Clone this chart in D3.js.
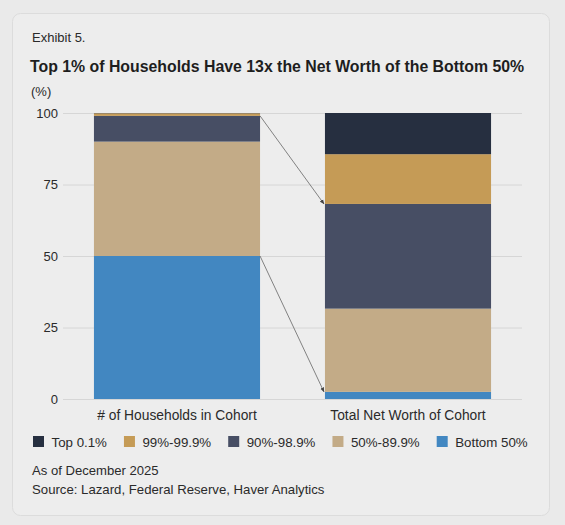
<!DOCTYPE html>
<html>
<head>
<meta charset="utf-8">
<script src="https://cdn.jsdelivr.net/npm/d3@7"></script>
<style>
  body { margin: 0; background: #eaeaea; font-family: "Liberation Sans", Arial, sans-serif; }
  svg text { fill: #2a2a2a; }
</style>
</head>
<body>
<svg id="chart" width="565" height="525"></svg>
<script>
const cohorts = ["# of Households in Cohort", "Total Net Worth of Cohort"];
const groups = ["Bottom 50%", "50%-89.9%", "90%-98.9%", "99%-99.9%", "Top 0.1%"];
const households = [50, 40, 9, 0.9, 0.1];
const netWorth = [2.5, 29.1, 36.6, 17.4, 14.4];
const yTicks = [0, 25, 50, 75, 100];
const colors = ["#4287c1", "#c3ab87", "#474e64", "#c59b56", "#262f40"];

const svg = d3.select("#chart");

// card
svg.append("rect")
    .attr("x", 12.5).attr("y", 13.5)
    .attr("width", 537).attr("height", 502)
    .attr("rx", 8)
    .attr("fill", "#ededed")
    .attr("stroke", "#dcdcdc");

svg.append("text").attr("x", 32).attr("y", 41.5)
    .style("font-size", "13px").text("Exhibit 5.");
svg.append("text").attr("x", 30).attr("y", 72)
    .style("font-size", "15.85px").style("font-weight", "bold")
    .style("fill", "#1e1e1e")
    .text("Top 1% of Households Have 13x the Net Worth of the Bottom 50%");
svg.append("text").attr("x", 31).attr("y", 96)
    .style("font-size", "13px").text("(%)");

const y = d3.scaleLinear().domain([0, 100]).range([399, 113]);
const x = d3.scaleBand().domain(cohorts).range([63, 522])
    .paddingInner(0.281).paddingOuter(0.134);

// grid + y labels
const yAxis = svg.append("g")
    .attr("transform", "translate(63,0)")
    .call(d3.axisLeft(y).tickValues(yTicks).tickSize(-459).tickPadding(5));
yAxis.select(".domain").remove();
yAxis.selectAll(".tick line").attr("stroke", "#d6d6d6");
yAxis.selectAll(".tick text")
    .attr("fill", "#333").style("font-size", "13px")
    .style("font-family", "'Liberation Sans', Arial, sans-serif");

// stacked bars
const rows = cohorts.map((c, i) => {
  const r = {cohort: c};
  groups.forEach((g, j) => r[g] = (i === 0 ? households : netWorth)[j]);
  return r;
});
const series = d3.stack().keys(groups)(rows);

svg.append("g").selectAll("g")
    .data(series).enter()
  .append("g")
    .attr("fill", (d, i) => colors[i])
  .selectAll("rect")
    .data(d => d).enter()
  .append("rect")
    .attr("x", d => x(d.data.cohort))
    .attr("width", x.bandwidth())
    .attr("y", d => y(d[1]))
    .attr("height", d => y(d[0]) - y(d[1]));

// x labels
const xAxis = svg.append("g")
    .attr("transform", "translate(0,402)")
    .call(d3.axisBottom(x).tickSize(0).tickPadding(8));
xAxis.select(".domain").remove();
xAxis.selectAll(".tick text")
    .attr("fill", "#333").style("font-size", "13.8px")
    .style("font-family", "'Liberation Sans', Arial, sans-serif");

// arrows
svg.append("defs").append("marker")
    .attr("id", "head")
    .attr("viewBox", "0 0 10 10")
    .attr("refX", 9).attr("refY", 5)
    .attr("markerWidth", 6).attr("markerHeight", 6)
    .attr("orient", "auto")
  .append("path")
    .attr("d", "M0,1L10,5L0,9z")
    .attr("fill", "#444");

const top1 = netWorth[3] + netWorth[4];
const links = [
  [100 - households[3] - households[4], 100 - top1],
  [households[0], netWorth[0]]
];
const x1 = x(cohorts[0]) + x.bandwidth();
const x2 = x(cohorts[1]);
svg.append("g").selectAll("line")
    .data(links).enter()
  .append("line")
    .attr("x1", x1).attr("y1", d => y(d[0]))
    .attr("x2", x2 - 1).attr("y2", d => y(d[1]))
    .attr("stroke", "#666").attr("stroke-width", 0.8)
    .attr("marker-end", "url(#head)");

// legend
const legend = svg.append("g").attr("transform", "translate(33,436)");
let lx = 0;
groups.slice().reverse().forEach((g, k) => {
  const i = groups.length - 1 - k;
  const item = legend.append("g").attr("transform", `translate(${lx},0)`);
  item.append("rect").attr("width", 11).attr("height", 11).attr("fill", colors[i]);
  const t = item.append("text").attr("x", 18.5).attr("y", 10.5)
      .style("font-size", "13.3px").text(g);
  lx += 18.5 + t.node().getComputedTextLength() + 17;
});

svg.append("text").attr("x", 32).attr("y", 474.5)
    .style("font-size", "13.1px").text("As of December 2025");
svg.append("text").attr("x", 32).attr("y", 494)
    .style("font-size", "13.2px").text("Source: Lazard, Federal Reserve, Haver Analytics");
</script>
</body>
</html>
